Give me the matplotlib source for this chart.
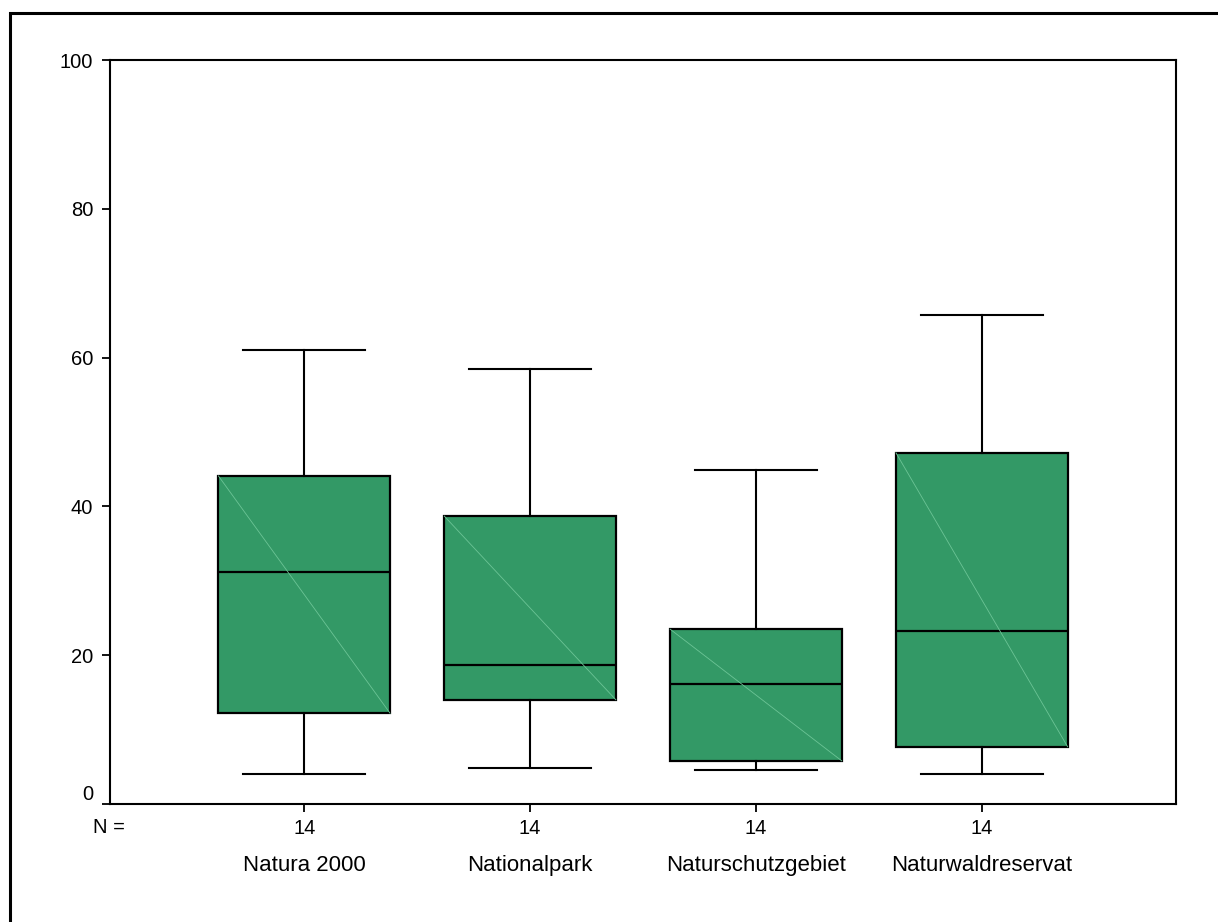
import matplotlib
matplotlib.use("Agg")
import matplotlib.pyplot as plt
from matplotlib.patches import Rectangle
from matplotlib.transforms import ScaledTranslation

categories = ["Natura 2000", "Nationalpark", "Naturschutzgebiet", "Naturwaldreservat"]
n_values = [14, 14, 14, 14]
whislo = [4.0, 4.8, 4.6, 4.0]
q1 = [12.2, 14.0, 5.8, 7.7]
med = [31.2, 18.7, 16.1, 23.3]
q3 = [44.1, 38.7, 23.5, 47.2]
whishi = [61.0, 58.5, 44.9, 65.7]
yticks = [0, 20, 40, 60, 80, 100]

plt.rcParams['font.family'] = ['Liberation Sans', 'DejaVu Sans']

fig = plt.figure(figsize=(12.18, 9.22), dpi=100)
fig.patches.append(Rectangle((10 / 1218, -0.05), 1.1, 1 - 13 / 922 + 0.05,
                             transform=fig.transFigure, fill=False,
                             edgecolor='black', linewidth=2.2, zorder=0))

ax = fig.add_axes([110 / 1218, 1 - 804 / 922, (1176 - 110) / 1218, (804 - 60) / 922])

positions = list(range(1, len(categories) + 1))
stats = []
for i in range(len(categories)):
    stats.append(dict(whislo=whislo[i], q1=q1[i], med=med[i], q3=q3[i],
                      whishi=whishi[i], fliers=[], label=categories[i]))

width = 0.76
bp = ax.bxp(stats, positions=positions, widths=width, patch_artist=True,
            capwidths=0.54, showfliers=False,
            boxprops=dict(facecolor='#339966', edgecolor='black', linewidth=1.6),
            medianprops=dict(color='black', linewidth=1.6),
            whiskerprops=dict(color='black', linewidth=1.5),
            capprops=dict(color='black', linewidth=1.5))

for i, p in enumerate(positions):
    ax.plot([p - width / 2, p + width / 2], [q3[i], q1[i]], color='#6cc496',
            linewidth=0.6, zorder=2.5)

ax.set_xlim(0.14, 4.86)
ax.set_ylim(0, 100)
ax.set_yticks(yticks)
ax.set_yticklabels([str(v) for v in yticks])
ax.set_xticks(positions)
ax.set_xticklabels([str(n) for n in n_values])
ax.tick_params(axis='both', labelsize=14.5, length=6, width=1.3, direction='out')
ax.tick_params(axis='y', pad=6)
ax.tick_params(axis='x', pad=4.5)
for s in ax.spines.values():
    s.set_linewidth(1.5)

# the "0" label sits slightly above its tick in the reference
ylabels = ax.get_yticklabels()
ylabels[0].set_transform(ylabels[0].get_transform() +
                         ScaledTranslation(0, 8 / 72, fig.dpi_scale_trans))

ax.text(-0.001, -0.031, "N =", transform=ax.transAxes, fontsize=14.5,
        ha='center', va='center')
for i, p in enumerate(positions):
    ax.annotate(categories[i], xy=(p, 0), xycoords=('data', 'axes fraction'),
                xytext=(0, -44), textcoords='offset points', ha='center',
                va='center', fontsize=16)

fig.savefig("out.png", dpi=100)
